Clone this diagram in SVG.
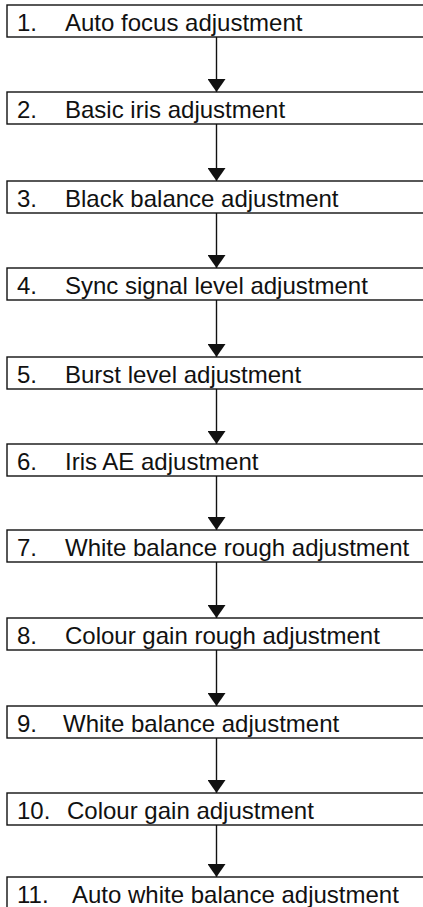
<svg xmlns="http://www.w3.org/2000/svg" width="423" height="907" viewBox="0 0 423 907">
<defs>
<style>
.box{fill:#fff;stroke:#111;stroke-width:1.4}
.t{font-family:"Liberation Sans",Arial,sans-serif;font-size:24px;fill:#111}
.c{stroke:#111;stroke-width:1.4;fill:none}
</style>
<marker id="ah" viewBox="0 0 13 18" refX="13" refY="9" markerWidth="13" markerHeight="18" markerUnits="userSpaceOnUse" orient="auto">
<path d="M0,0 L13,9 L0,18 Z" fill="#111"/>
</marker>
</defs>
<rect width="423" height="907" fill="#fff"/>
<g id="connectors">
<line class="c" x1="216.5" y1="37" x2="216.5" y2="92" marker-end="url(#ah)"/>
<line class="c" x1="216.5" y1="124" x2="216.5" y2="181" marker-end="url(#ah)"/>
<line class="c" x1="216.5" y1="213" x2="216.5" y2="268" marker-end="url(#ah)"/>
<line class="c" x1="216.5" y1="300" x2="216.5" y2="357" marker-end="url(#ah)"/>
<line class="c" x1="216.5" y1="389" x2="216.5" y2="444" marker-end="url(#ah)"/>
<line class="c" x1="216.5" y1="476" x2="216.5" y2="530" marker-end="url(#ah)"/>
<line class="c" x1="216.5" y1="562" x2="216.5" y2="618" marker-end="url(#ah)"/>
<line class="c" x1="216.5" y1="650" x2="216.5" y2="706" marker-end="url(#ah)"/>
<line class="c" x1="216.5" y1="738" x2="216.5" y2="793" marker-end="url(#ah)"/>
<line class="c" x1="216.5" y1="825" x2="216.5" y2="877" marker-end="url(#ah)"/>
</g>
<g id="n1"><rect class="box" x="7" y="5" width="430" height="32"/><text class="t" x="17" y="31">1.</text><text class="t" x="65" y="31">Auto focus adjustment</text></g>
<g id="n2"><rect class="box" x="7" y="92" width="430" height="32"/><text class="t" x="17" y="118">2.</text><text class="t" x="65" y="118">Basic iris adjustment</text></g>
<g id="n3"><rect class="box" x="7" y="181" width="430" height="32"/><text class="t" x="17" y="207">3.</text><text class="t" x="65" y="207">Black balance adjustment</text></g>
<g id="n4"><rect class="box" x="7" y="268" width="430" height="32"/><text class="t" x="17" y="294">4.</text><text class="t" x="65" y="294">Sync signal level adjustment</text></g>
<g id="n5"><rect class="box" x="7" y="357" width="430" height="32"/><text class="t" x="17" y="383">5.</text><text class="t" x="65" y="383">Burst level adjustment</text></g>
<g id="n6"><rect class="box" x="7" y="444" width="430" height="32"/><text class="t" x="17" y="470">6.</text><text class="t" x="65" y="470">Iris AE adjustment</text></g>
<g id="n7"><rect class="box" x="7" y="530" width="430" height="32"/><text class="t" x="17" y="556">7.</text><text class="t" x="65" y="556">White balance rough adjustment</text></g>
<g id="n8"><rect class="box" x="7" y="618" width="430" height="32"/><text class="t" x="17" y="644">8.</text><text class="t" x="65" y="644">Colour gain rough adjustment</text></g>
<g id="n9"><rect class="box" x="7" y="706" width="430" height="32"/><text class="t" x="17" y="732">9.</text><text class="t" x="63" y="732">White balance adjustment</text></g>
<g id="n10"><rect class="box" x="7" y="793" width="430" height="32"/><text class="t" x="17" y="819">10.</text><text class="t" x="67" y="819">Colour gain adjustment</text></g>
<g id="n11"><rect class="box" x="7" y="877" width="430" height="40"/><text class="t" x="17" y="903">11.</text><text class="t" x="72" y="903">Auto white balance adjustment</text></g>
</svg>
